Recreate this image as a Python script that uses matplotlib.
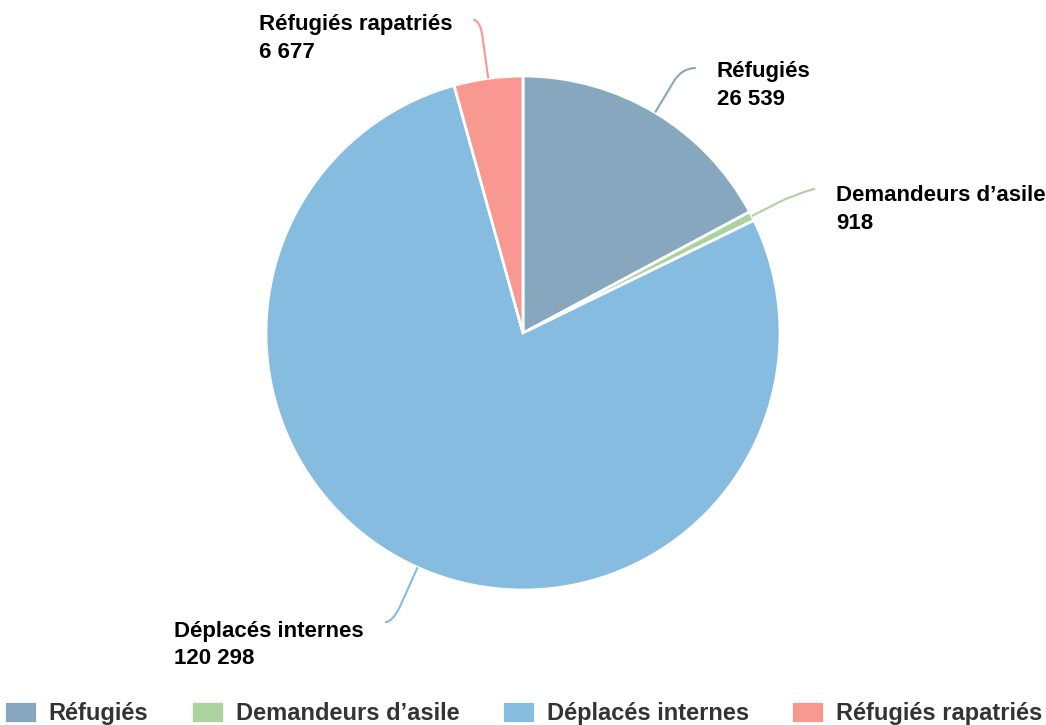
import numpy as np
import matplotlib.pyplot as plt
from matplotlib.path import Path
from matplotlib.patches import PathPatch

# data
labels = ["Réfugiés", "Demandeurs d\u2019asile", "Déplacés internes", "Réfugiés rapatriés"]
values = [26539, 918, 120298, 6677]
value_labels = ["26 539", "918", "120 298", "6 677"]
colors = ["#86a7bd", "#acd29d", "#85bce0", "#f99890"]

plt.rcParams['font.family'] = ['Liberation Sans', 'DejaVu Sans']

fig = plt.figure(figsize=(10.46, 7.25), dpi=100)
ax = fig.add_axes([0, 0, 1, 1])

cx, cy, r = 523, 392, 257
wedges, _ = ax.pie(values, colors=colors, startangle=90, counterclock=False,
                   center=(cx, cy), radius=r, frame=True,
                   wedgeprops=dict(edgecolor='white', linewidth=2))
ax.set_xlim(0, 1046)
ax.set_ylim(0, 725)
ax.set_aspect('equal')
ax.axis('off')

# leader lines: (radial length, tail dx, tail dy, text side, text drop)
leaders = [(52, 14, 0, 'right', 17.5), (45, 23, 7, 'right', 21),
           (60, 8, 0, 'left', 23), (59, 7, 0, 'left', 18.5)]
for w, lab, val, col, (ext, tail, rise, side, drop) in zip(wedges, labels, value_labels, colors, leaders):
    ang = np.deg2rad((w.theta1 + w.theta2) / 2)
    p0 = np.array([cx + r * np.cos(ang), cy + r * np.sin(ang)])
    p1 = np.array([cx + (r + ext) * np.cos(ang), cy + (r + ext) * np.sin(ang)])
    sgn = 1 if side == 'right' else -1
    p2 = p1 + np.array([sgn * tail, rise])
    mid = p0 + (p1 - p0) * 0.7
    path = Path([p0, mid, p1, p2],
                [Path.MOVETO, Path.LINETO, Path.CURVE3, Path.CURVE3])
    ax.add_patch(PathPatch(path, facecolor='none', edgecolor=col, lw=1.5))
    tx = p2[0] + sgn * 21
    ax.text(tx, p2[1] - drop, lab + "\n" + val, ha='left' if side == 'right' else 'right',
            va='center', fontsize=16, fontweight='bold', color='black',
            linespacing=1.42, multialignment='left')

leg = ax.legend(wedges, labels, loc='lower center', bbox_to_anchor=(0.5, -0.01),
                ncol=4, frameon=False, prop=dict(size=17, weight='bold'),
                handlelength=1.4, handleheight=1.06, handletextpad=0.5,
                columnspacing=1.8, borderaxespad=0.2, borderpad=0.1)
for t in leg.get_texts():
    t.set_color('#333333')

fig.savefig('out.png', dpi=100)
